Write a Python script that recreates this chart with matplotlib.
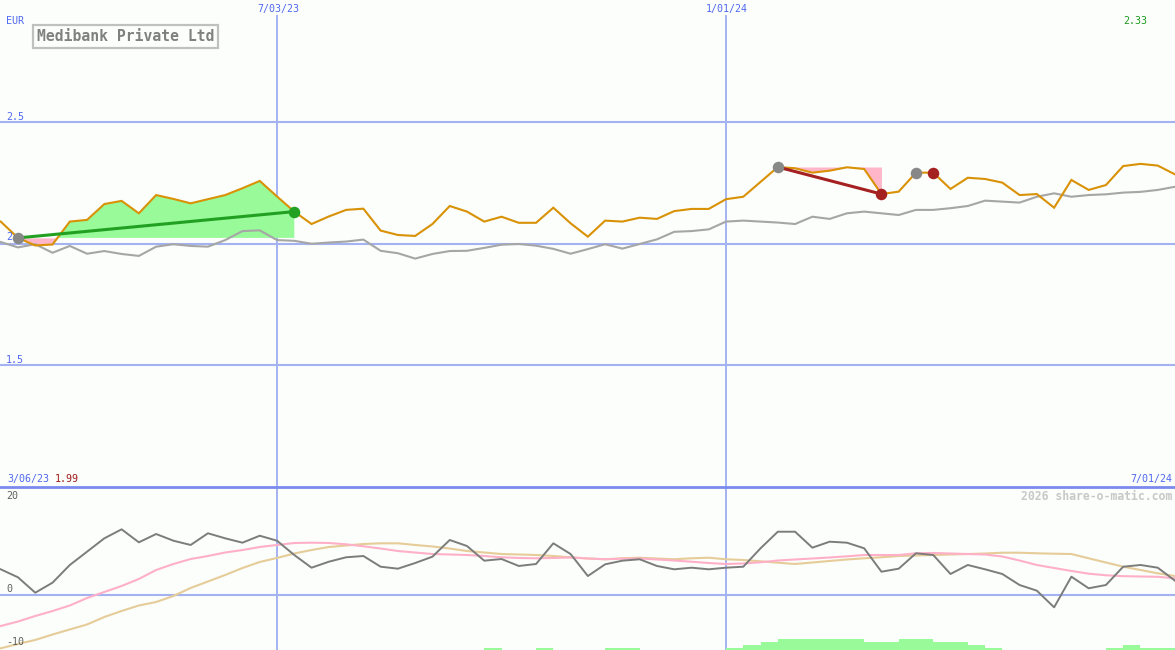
import matplotlib
matplotlib.use("Agg")
import matplotlib.pyplot as plt
import numpy as np
import pandas as pd
from matplotlib.patches import Rectangle
from matplotlib.lines import Line2D

# ---------------- data ----------------
dates = pd.date_range("2023-03-13", periods=69, freq="7D")

price = [2.090, 2.023, 1.992, 1.996, 2.090, 2.097, 2.162, 2.175, 2.124, 2.199,
         2.183, 2.165, 2.182, 2.199, 2.227, 2.257, 2.193, 2.131, 2.080, 2.111,
         2.138, 2.143, 2.053, 2.035, 2.031, 2.080, 2.154, 2.131, 2.090, 2.110,
         2.085, 2.085, 2.147, 2.083, 2.028, 2.094, 2.090, 2.106, 2.101, 2.133,
         2.142, 2.142, 2.182, 2.192, 2.253, 2.314, 2.309, 2.291, 2.299, 2.313,
         2.306, 2.203, 2.213, 2.291, 2.291, 2.224, 2.270, 2.265, 2.250, 2.199,
         2.203, 2.147, 2.261, 2.220, 2.240, 2.318, 2.327, 2.320, 2.284]

index_rel = [2.006, 1.984, 1.997, 1.962, 1.990, 1.958, 1.969, 1.957, 1.949, 1.987,
             1.997, 1.990, 1.987, 2.014, 2.051, 2.054, 2.014, 2.011, 1.999, 2.004,
             2.008, 2.016, 1.970, 1.960, 1.938, 1.957, 1.969, 1.970, 1.982, 1.995,
             1.998, 1.991, 1.978, 1.958, 1.977, 1.997, 1.979, 1.998, 2.017, 2.048,
             2.051, 2.058, 2.090, 2.094, 2.090, 2.086, 2.080, 2.110, 2.101, 2.124,
             2.131, 2.124, 2.117, 2.138, 2.138, 2.145, 2.154, 2.176, 2.172, 2.168,
             2.192, 2.206, 2.192, 2.199, 2.202, 2.209, 2.212, 2.220, 2.233]

momentum = [4.94, 3.40, 0.44, 2.37, 5.77, 8.33, 10.90, 12.63, 10.13, 11.73,
            10.44, 9.62, 11.87, 10.90, 10.06, 11.40, 10.44, 7.69, 5.25, 6.40,
            7.25, 7.50, 5.44, 5.06, 6.15, 7.37, 10.58, 9.42, 6.60, 6.92,
            5.58, 5.96, 9.94, 7.88, 3.65, 5.90, 6.60, 6.87, 5.58, 4.94,
            5.25, 4.94, 5.25, 5.44, 8.98, 12.17, 12.17, 9.10, 10.25, 10.06,
            8.98, 4.48, 5.06, 8.02, 7.69, 4.04, 5.77, 4.94, 4.04, 1.92,
            0.83, -2.37, 3.52, 1.29, 1.92, 5.44, 5.77, 5.25, 2.75]

avg_fast = [-5.96, -5.10, -4.04, -3.08, -2.02, -0.58, 0.58, 1.73, 3.08, 4.81,
            5.96, 6.92, 7.50, 8.17, 8.65, 9.23, 9.62, 10.00, 10.06, 10.00,
            9.75, 9.37, 8.94, 8.46, 8.17, 7.88, 7.79, 7.69, 7.50, 7.25,
            7.12, 7.06, 7.12, 7.21, 7.02, 6.87, 6.98, 7.02, 6.83, 6.63,
            6.40, 6.15, 5.96, 6.06, 6.29, 6.63, 6.83, 7.02, 7.21, 7.44,
            7.69, 7.69, 7.69, 8.02, 8.08, 7.98, 7.88, 7.79, 7.40, 6.63,
            5.77, 5.19, 4.62, 4.10, 3.79, 3.62, 3.56, 3.50, 3.21]

avg_slow = [-10.25, -9.42, -8.65, -7.60, -6.63, -5.67, -4.23, -3.08, -2.02, -1.35,
            -0.19, 1.35, 2.60, 3.85, 5.19, 6.35, 7.12, 7.98, 8.65, 9.23,
            9.52, 9.81, 9.94, 9.94, 9.62, 9.33, 8.94, 8.46, 8.17, 7.88,
            7.79, 7.69, 7.50, 7.25, 7.02, 6.87, 7.06, 7.17, 7.02, 6.87,
            7.06, 7.17, 6.87, 6.73, 6.48, 6.21, 5.96, 6.25, 6.54, 6.83,
            7.06, 7.25, 7.50, 7.60, 7.69, 7.79, 7.88, 7.98, 8.13, 8.13,
            8.02, 7.94, 7.88, 7.06, 6.25, 5.44, 4.81, 4.17, 3.65]

bar_index = [28, 31, 35, 36, 42, 43, 44, 45, 46, 47, 48, 49, 50, 51, 52, 53,
             54, 55, 56, 57, 64, 65, 66, 67]
bar_height = [0.63, 0.63, 0.63, 0.63, 0.63, 1.29, 1.79, 2.37, 2.37, 2.37, 2.37, 2.37,
              1.79, 1.79, 2.37, 2.37, 1.79, 1.79, 1.29, 0.63, 0.63, 1.29, 0.63, 0.63]

price_ticks = [2.5, 2.0, 1.5]
price_tick_labels = ["2.5", "2", "1.5"]
date_lines = ["2023-07-03", "2024-01-01"]
date_labels = ["7/03/23", "1/01/24"]
osc_ticks = [20, 0, -10]
osc_tick_labels = ["20", "0", "-10"]

buy_start, buy_end = 1, 17          # green trade
sell_start, sell_end = 45, 51       # red trade
extra_grey, extra_red = 53, 54

# ---------------- style ----------------
W, H = 1175, 650
BG = "#FBFEFB"
GRID = "#A4B2F2"
BORDER = "#7A8AEE"
BLUE_TXT = "#5068F0"
ORANGE = "#D99106"
GREY = "#A6A6A6"
MONO = "DejaVu Sans Mono"

fig = plt.figure(figsize=(W / 100, H / 100), dpi=100, facecolor=BG)

def fy(y):
    return 1 - y / H

def fx(x):
    return x / W

top_px, split_px = 0, 487
ax = fig.add_axes([0, fy(split_px), 1, (split_px - top_px) / H])
axb = fig.add_axes([0, 0, 1, (H - split_px) / H])
for a in (ax, axb):
    a.set_facecolor(BG)
    a.set_axis_off()

x0 = dates[0] - pd.Timedelta(hours=7)
x1 = dates[-1]
ax.set_xlim(x0, x1)
axb.set_xlim(x0, x1)
ax.set_ylim(1.0, 3.0)
osc_lo, osc_hi = -10.58, 20.77
axb.set_ylim(osc_lo, osc_hi)

# grid
for t in price_ticks:
    ax.axhline(t, color=GRID, lw=1.5, zorder=1)
for d in date_lines:
    ax.axvline(pd.Timestamp(d), ymin=0, ymax=(split_px - 16) / split_px, color=GRID, lw=1.4, zorder=1)
    axb.axvline(pd.Timestamp(d), color=GRID, lw=1.4, zorder=1)
axb.axhline(0, color=GRID, lw=1.5, zorder=1)
fig.add_artist(Line2D([0, 1], [fy(split_px), fy(split_px)], color=BORDER, lw=2.0,
                      transform=fig.transFigure, zorder=5))

p = np.array(price)

# green trade fill
seg = slice(buy_start, buy_end + 1)
lvl = price[buy_start]
ax.fill_between(dates[seg], lvl, p[seg], where=p[seg] >= lvl, interpolate=True,
                color="#98FA98", lw=0, zorder=2)
ax.fill_between(dates[seg], lvl, p[seg], where=p[seg] <= lvl, interpolate=True,
                color="#FFB6C8", lw=0, zorder=2)
# red trade fill
seg2 = slice(sell_start, sell_end + 1)
lvl2 = price[sell_start]
ax.fill_between(dates[seg2], lvl2, p[seg2], where=p[seg2] <= lvl2, interpolate=True,
                color="#FFB6C8", lw=0, zorder=2)

ax.plot(dates, index_rel, color=GREY, lw=1.5, zorder=3, solid_joinstyle="miter")
ax.plot(dates, price, color=ORANGE, lw=1.5, zorder=4, solid_joinstyle="miter")

ax.plot([dates[buy_start], dates[buy_end]], [price[buy_start], price[buy_end]],
        color="#22A022", lw=2.2, zorder=5)
ax.plot([dates[sell_start], dates[sell_end]], [price[sell_start], price[sell_end]],
        color="#A52020", lw=2.2, zorder=5)

ms = 8.3
for i in (buy_start, sell_start, extra_grey):
    ax.plot(dates[i], price[i], "o", color="#888888", ms=ms, zorder=6, mew=0)
for i in (sell_end, extra_red):
    ax.plot(dates[i], price[i], "o", color="#A52020", ms=ms, zorder=6, mew=0)
ax.plot(dates[buy_end], price[buy_end], "o", color="#22A022", ms=ms, zorder=6, mew=0)

# bottom panel
axb.bar(dates[bar_index], bar_height, width=7, align="edge", bottom=osc_lo - 0.3,
        color="#98FA98", lw=0, zorder=2)
axb.plot(dates, avg_slow, color="#E6CC98", lw=1.5, zorder=3)
axb.plot(dates, avg_fast, color="#FFB0C8", lw=1.5, zorder=3)
axb.plot(dates, momentum, color="#7C7C7C", lw=1.4, zorder=4)

# ---------------- texts ----------------
fs = 7.2
def txt(x, y, s, color, ha="left", size=fs, weight="normal"):
    fig.text(fx(x), fy(y), s, color=color, ha=ha, va="center", family=MONO,
             fontsize=size, fontweight=weight, zorder=10)

txt(6, 21, "EUR", BLUE_TXT)
for t, lab, yc in zip(price_ticks, price_tick_labels, [116.5, 237.5, 360]):
    txt(6, yc, lab, BLUE_TXT)
for d, lab, xc in zip(date_lines, date_labels, [278, 727]):
    txt(xc, 9, lab, BLUE_TXT, ha="center")
txt(1147, 21, "2.33", "#1E9A1E", ha="right")
txt(7, 479, "3/06/23", BLUE_TXT)
txt(55, 479, "1.99", "#A01818")
txt(1172, 479, "7/01/24", BLUE_TXT, ha="right")
txt(1172, 496, "2026 share-o-matic.com", "#C8C8C8", ha="right", size=8.3, weight="bold")
for lab, yc in zip(osc_tick_labels, [496, 589, 642]):
    txt(6, yc, lab, "#606060")

# title box
fig.add_artist(Rectangle((fx(32.5), fy(48)), (218 - 32.5) / W, (48 - 25) / H,
                         transform=fig.transFigure, fill=False, ec="#C0C0C0", lw=1.6, zorder=9))
txt(37, 36.5, "Medibank Private Ltd", "#808080", size=10.6, weight="bold")

fig.savefig("out.png", dpi=100, facecolor=BG)
